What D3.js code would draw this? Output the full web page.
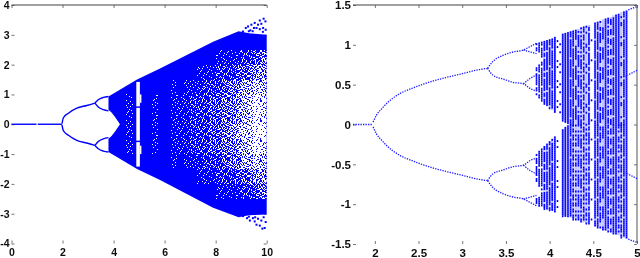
<!DOCTYPE html>
<html>
<head>
<meta charset="utf-8">
<script src="https://cdn.jsdelivr.net/npm/d3@7"></script>
<style>
    body { margin: 0; background: #fff; }
    svg { display: block; }
    text { font-family: "Liberation Sans", Arial, sans-serif; font-weight: bold; fill: #111; }
</style>
</head>
<body>
<div id="chart"></div>
<script>
// ---- left panel, values ----
var leftXTicks = [0, 2, 4, 6, 8, 10];
var leftYTicks = [-4, -3, -2, -1, 0, 1, 2, 3, 4];

// flat line left of the first split (there is a small gap in it)
var leftFlatA = [[0, 0], [0.98, 0]];
var leftFlatB = [[1.03, 0], [1.98, 0]];
// upper half of the bubble; the lower half is its mirror
var leftBranch = [[1.98, 0.02], [2.03, 0.21], [2.23, 0.37], [2.56, 0.54], [2.95, 0.63], [3.27, 0.71]];
var leftLobeUp = [[3.27, 0.71], [3.4, 0.82], [3.6, 0.9], [3.8, 0.93]];
var leftLobeDown = [[3.27, 0.71], [3.4, 0.58], [3.6, 0.49], [3.8, 0.45]];

// solid wedge outline
var wedgeX = [3.8, 4.92, 5.82, 7.9, 8.9, 9.3, 10];
var wedgeTop = [0.93, 1.5, 1.87, 2.77, 3.12, 3.05, 3.0];
var wedgeBottom = [-0.93, -1.5, -1.87, -2.8, -3.12, -3.05, -3.03];
var wedgeHole = [[3.8, 0.49], [3.92, 0.39], [4.05, 0.25], [4.25, 0], [4.05, -0.25], [3.92, -0.39], [3.8, -0.49]];

// white window near x = 5, and the small bulges beside it
var windowX = [4.89, 5.03];
var windowRuns = [[1.42, 0.6], [0.55, -0.55], [-0.6, -1.42]];
var bulgeX = [5.03, 5.09];
var bulgeRuns = [[1.0, 0.72], [-0.72, -1.0]];

// how much of each cell is blue (0-9), one string per y band, one digit per x column
var densityX = [4.25, 4.5, 4.75, 5, 5.25, 5.5, 5.75, 6, 6.25, 6.5, 6.75, 7, 7.25, 7.5, 7.75, 8, 8.25, 8.5, 8.75, 9, 9.25, 9.5, 9.75];
var densityY = [3, 2.5, 2, 1.5, 1, 0.5, 0, -0.5, -1, -1.5, -2, -2.5];
var densityRows = [
    "99999999999999999999999",
    "99999999999999988887765",
    "99999999999988877766544",
    "99999999898887776553323",
    "98999899888777665543212",
    "98999899888777665543212",
    "98999899888777665432211",
    "98999899888777665543212",
    "99999999898887776553323",
    "99999999999988877766544",
    "99999999999999988887765",
    "99999999999999999999999"
];

// stray dots past the solid band at the right end
var strayTop = [[9.07, 3.11], [9.18, 3.23], [9.27, 3.28], [9.36, 3.15], [9.4, 3.34], [9.5, 3.23], [9.53, 3.4], [9.6, 3.23], [9.66, 3.34], [9.73, 3.48], [9.73, 3.19], [9.79, 3.37], [9.86, 3.23], [9.88, 3.54], [9.95, 3.45], [9.96, 3.17], [9.3, 3.12], [9.45, 3.12], [9.85, 3.1]];
var strayBottom = [[9.07, -3.08], [9.23, -3.15], [9.34, -3.23], [9.46, -3.15], [9.53, -3.26], [9.6, -3.37], [9.66, -3.17], [9.73, -3.4], [9.79, -3.23], [9.83, -3.5], [9.92, -3.48], [9.96, -3.28], [9.3, -3.1], [9.55, -3.12], [9.88, -3.12]];

// ---- right panel ----
var rightXTicks = [2, 2.5, 3, 3.5, 4, 4.5, 5];
var rightYTicks = [-1.5, -1, -0.5, 0, 0.5, 1, 1.5];

var rightFlat = [[1.75, 0], [1.97, 0]];
var rightBranch = [[1.98, 0.03], [2.02, 0.12], [2.08, 0.2], [2.15, 0.28], [2.29, 0.39], [2.44, 0.46], [2.59, 0.52], [2.78, 0.58], [2.97, 0.63], [3.2, 0.69], [3.29, 0.705]];
var rightLobeUp = [[3.29, 0.705], [3.35, 0.79], [3.47, 0.87], [3.58, 0.91], [3.7, 0.935], [3.78, 0.98], [3.85, 1.02]];
var rightLobeUpInner = [[3.7, 0.935], [3.78, 0.91], [3.85, 0.89]];
var rightLobeDown = [[3.29, 0.705], [3.35, 0.62], [3.47, 0.57], [3.58, 0.53], [3.7, 0.51], [3.78, 0.45], [3.85, 0.42]];
var rightLobeDownInner = [[3.7, 0.51], [3.78, 0.58], [3.85, 0.62]];
var rightTailOuter = [[4.9, 1.44], [5, 1.48]];
var rightTailInner = [[4.86, 0.6], [5, 0.68]];

// the dotted vertical strips
var colX = [3.85, 3.88, 3.91, 3.94, 3.97, 4.0, 4.03, 4.06, 4.09, 4.12, 4.15, 4.18, 4.21, 4.24, 4.27, 4.30, 4.33, 4.36, 4.39, 4.42, 4.45, 4.48, 4.52, 4.55, 4.58, 4.61, 4.64, 4.67, 4.70, 4.73, 4.76, 4.79, 4.82, 4.85, 4.88];
var colLevel = [7, 8, 6, 7, 7, 8, 8, 9, 1, 1, 9, 9, 9, 8, 7, 5, 5, 7, 7, 5, 5, 1, 8, 8, 6, 7, 9, 7, 5, 8, 9, 7, 5, 8, 9];
var colTop = [1.02, 1.03, 1.04, 1.05, 1.06, 1.07, 1.08, 1.10, 1.11, 1.12, 1.14, 1.15, 1.16, 1.17, 1.18, 1.19, 1.20, 1.22, 1.23, 1.24, 1.25, 1.27, 1.28, 1.29, 1.30, 1.32, 1.33, 1.34, 1.35, 1.37, 1.38, 1.39, 1.41, 1.42, 1.43];
var colInner = [0.37, 0.33, 0.30, 0.27, 0.24, 0.21, 0.18, 0.15, 0.12, 0.09, 0.06, 0.03, 0.01, 0, 0, 0, 0, 0, 0, 0, 0, 0, 0, 0, 0, 0, 0, 0, 0, 0, 0, 0, 0, 0, 0];
var notchLow = [0.72, 0.76, 0.81];
var notchHigh = [0.91, 0.89, 0.85];

// scattered threshold tile used to turn a 0-9 level into dots
var tile = [
    "01726583402718560347", "10834672518036472581", "57261804367125083641", "36508127845603271805",
    "82413650172784516230", "74052386610327485164", "16387402258641730572", "25610748336058127483",
    "63847015274126365018", "40172563081753420867", "58236140726805173124", "87304251863127640255",
    "12765308415760382416", "34518672003482651778", "60427185134516207340", "21683047576023418865",
    "75140326682715034152", "48271563001847625307", "03586214437206158643", "16748350126534872014"
];

var blue = "#0000ff";

var svg = d3.select("#chart").append("svg")
    .attr("width", 640)
    .attr("height", 258);

var defs = svg.append("defs");

defs.append("filter").attr("id", "soft")
    .attr("filterUnits", "userSpaceOnUse")
    .attr("x", 0).attr("y", 0)
    .attr("width", 640).attr("height", 258)
    .append("feGaussianBlur").attr("stdDeviation", 0.35);

// one dither pattern per level
d3.range(1, 9).forEach(function(level) {
    var p = defs.append("pattern")
        .attr("id", "level" + level)
        .attr("patternUnits", "userSpaceOnUse")
        .attr("width", 20)
        .attr("height", 20);
    p.append("rect").attr("width", 20).attr("height", 20).attr("fill", "#fff");
    tile.forEach(function(row, r) {
        row.split("").forEach(function(c, k) {
            if (+c < level) {
                p.append("rect").attr("x", k).attr("y", r)
                    .attr("width", 1).attr("height", 1)
                    .attr("fill", blue);
            }
        });
    });
});

var root = svg.append("g").attr("filter", "url(#soft)");

// Axes, only ticks plus the lines the picture really shows
function drawAxes(x, y, xTicks, yTicks, pad, fontSize) {
    var g = root.append("g");
    var range = x.range(), yRange = y.range();

    function clean(sel) {
        sel.select(".domain").remove();
        sel.selectAll(".tick line").attr("stroke", "#777");
    }

    g.append("g").attr("transform", "translate(0," + yRange[0] + ")")
        .call(d3.axisBottom(x).tickValues(xTicks).tickSize(-3).tickPadding(5).tickFormat(String))
        .call(clean);
    g.append("g").attr("transform", "translate(0," + yRange[1] + ")")
        .call(d3.axisTop(x).tickValues(xTicks).tickSize(-3).tickFormat(""))
        .call(clean);
    g.append("g").attr("transform", "translate(" + range[0] + ",0)")
        .call(d3.axisLeft(y).tickValues(yTicks).tickSize(-3).tickPadding(pad).tickFormat(String))
        .call(clean);
    g.append("g").attr("transform", "translate(" + range[1] + ",0)")
        .call(d3.axisRight(y).tickValues(yTicks).tickSize(-3).tickFormat(""))
        .call(clean);

    g.selectAll("g").attr("font-family", null).attr("font-size", fontSize);

    g.append("line")
        .attr("x1", range[0]).attr("x2", range[1])
        .attr("y1", yRange[1]).attr("y2", yRange[1])
        .attr("stroke", "#444")
        .attr("stroke-width", 1.2);
}

// ---- left panel ----
var xL = d3.scaleLinear().domain([0, 10]).range([11.5, 266.7]);
var yL = d3.scaleLinear().domain([-4, 4]).range([243.5, 5]);
drawAxes(xL, yL, leftXTicks, leftYTicks, 2, 10.5);

var lineL = d3.line()
    .x(function(d) { return xL(d[0]); })
    .y(function(d) { return yL(d[1]); })
    .curve(d3.curveMonotoneX);

var left = root.append("g");

[leftFlatA, leftFlatB].forEach(function(seg) {
    left.append("path").attr("d", lineL(seg))
        .attr("fill", "none").attr("stroke", blue).attr("stroke-width", 1.4);
});
[1, -1].forEach(function(sign) {
    [leftBranch, leftLobeUp, leftLobeDown].forEach(function(seg) {
        var pts = seg.map(function(d) { return [d[0], sign * d[1]]; });
        left.append("path").attr("d", lineL(pts))
            .attr("fill", "none").attr("stroke", blue).attr("stroke-width", 1.4);
    });
});

// wedge polygon with the bite taken out of its left side
var wedgePts = wedgeX.map(function(d, i) { return [xL(d), yL(wedgeTop[i])]; })
    .concat(wedgeX.map(function(d, i) { return [xL(d), yL(wedgeBottom[i])]; }).reverse())
    .concat(wedgeHole.slice().reverse().map(function(d) { return [xL(d[0]), yL(d[1])]; }));
var wedgePath = "M" + wedgePts.join("L") + "Z";

defs.append("clipPath").attr("id", "wedgeClip").append("path").attr("d", wedgePath);

left.append("path").attr("d", wedgePath).attr("fill", blue);

var cells = [];
densityRows.forEach(function(row, r) {
    row.split("").forEach(function(c, k) {
        cells.push({
            x0: densityX[k],
            x1: k + 1 < densityX.length ? densityX[k + 1] : 10,
            y0: densityY[r],
            y1: r + 1 < densityY.length ? densityY[r + 1] : -3,
            level: +c
        });
    });
});

left.append("g").attr("clip-path", "url(#wedgeClip)")
    .selectAll("rect")
    .data(cells.filter(function(d) { return d.level < 9; }))
    .enter()
    .append("rect")
    .attr("x", function(d) { return Math.round(xL(d.x0)); })
    .attr("y", function(d) { return Math.round(yL(d.y0)); })
    .attr("width", function(d) { return Math.round(xL(d.x1)) - Math.round(xL(d.x0)); })
    .attr("height", function(d) { return Math.round(yL(d.y1)) - Math.round(yL(d.y0)); })
    .attr("fill", function(d) { return d.level === 0 ? "#fff" : "url(#level" + d.level + ")"; })
    .attr("shape-rendering", "crispEdges");

left.selectAll("rect.window")
    .data(windowRuns)
    .enter()
    .append("rect")
    .attr("class", "window")
    .attr("x", xL(windowX[0]))
    .attr("width", xL(windowX[1]) - xL(windowX[0]))
    .attr("y", function(d) { return yL(d[0]); })
    .attr("height", function(d) { return yL(d[1]) - yL(d[0]); })
    .attr("fill", "#fff");

left.selectAll("rect.bulge")
    .data(bulgeRuns)
    .enter()
    .append("rect")
    .attr("class", "bulge")
    .attr("x", xL(bulgeX[0]))
    .attr("width", xL(bulgeX[1]) - xL(bulgeX[0]))
    .attr("y", function(d) { return yL(d[0]); })
    .attr("height", function(d) { return yL(d[1]) - yL(d[0]); })
    .attr("fill", "#fff");

left.selectAll("rect.stray")
    .data(strayTop.concat(strayBottom))
    .enter()
    .append("rect")
    .attr("class", "stray")
    .attr("x", function(d) { return xL(d[0]) - 1; })
    .attr("y", function(d) { return yL(d[1]) - 1; })
    .attr("width", 2)
    .attr("height", 2)
    .attr("fill", blue);

// ---- right panel ----
var xR = d3.scaleLinear().domain([1.75, 5]).range([353, 637]);
var yR = d3.scaleLinear().domain([-1.5, 1.5]).range([244, 5]);
drawAxes(xR, yR, rightXTicks, rightYTicks, 2, 11.5);

root.append("line")
    .attr("x1", 637).attr("x2", 637)
    .attr("y1", 5).attr("y2", 243)
    .attr("stroke", "#555")
    .attr("stroke-width", 1);

var lineR = d3.line()
    .x(function(d) { return xR(d[0]); })
    .y(function(d) { return yR(d[1]); })
    .curve(d3.curveMonotoneX);

var right = root.append("g");

function dotted(pts) {
    right.append("path").attr("d", lineR(pts))
        .attr("fill", "none")
        .attr("stroke", "#1a1aff")
        .attr("stroke-width", 1.3)
        .attr("stroke-dasharray", "1.3 1.2");
}
dotted(rightFlat);
[1, -1].forEach(function(sign) {
    [rightBranch, rightLobeUp, rightLobeUpInner, rightLobeDown, rightLobeDownInner, rightTailOuter, rightTailInner].forEach(function(seg) {
        dotted(seg.map(function(d) { return [d[0], sign * d[1]]; }));
    });
});

// pale backing for each strip, then its dots
var strips = [];
var dots = [];
colX.forEach(function(cx, i) {
    [1, -1].forEach(function(sign) {
        var a = Math.min(yR(sign * colTop[i]), yR(sign * colInner[i]));
        var b = Math.max(yR(sign * colTop[i]), yR(sign * colInner[i]));
        if (colLevel[i] > 1) strips.push({ x: cx, a: a, b: b, i: i, sign: sign });
        for (var py = a; py < b; py += 2) {
            var v = Math.abs(yR.invert(py));
            if (i < notchLow.length && v > notchLow[i] && v < notchHigh[i]) continue;
            var c = +tile[Math.round(py) % 20][(i * 7) % 20];
            if (c < colLevel[i]) dots.push({ x: cx, py: py });
        }
    });
});

// strips that carry the notch stop short of it
right.selectAll("rect.strip")
    .data(strips.filter(function(d) { return d.i >= notchLow.length; }))
    .enter()
    .append("rect")
    .attr("class", "strip")
    .attr("x", function(d) { return xR(d.x) - 1.2; })
    .attr("y", function(d) { return d.a; })
    .attr("width", 2.4)
    .attr("height", function(d) { return d.b - d.a; })
    .attr("fill", "#c6c6ff");

right.selectAll("rect.dot")
    .data(dots)
    .enter()
    .append("rect")
    .attr("class", "dot")
    .attr("x", function(d) { return xR(d.x) - 0.8; })
    .attr("y", function(d) { return d.py; })
    .attr("width", 1.6)
    .attr("height", 2)
    .attr("fill", blue);
</script>
</body>
</html>
